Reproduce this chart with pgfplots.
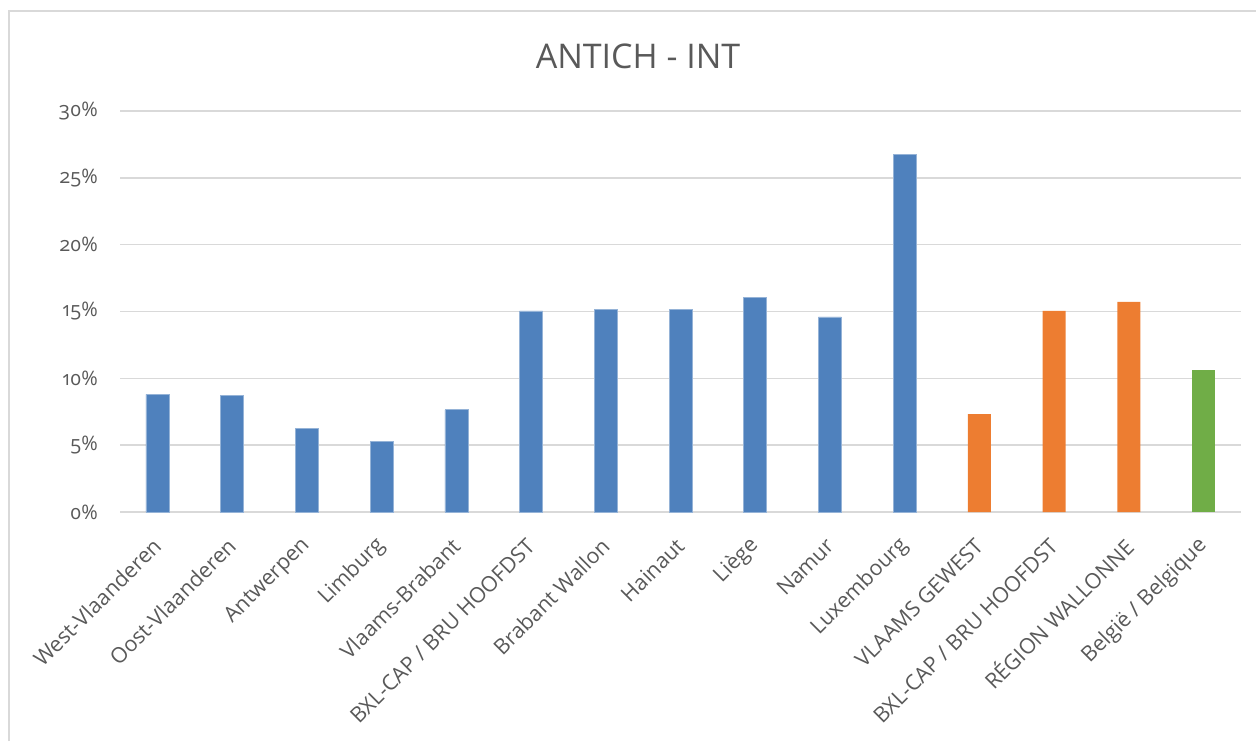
\documentclass[border=0pt]{standalone}
\usepackage{pgfplots}
\pgfplotsset{compat=1.18}
\usepackage{fontspec}
\setmainfont{Open Sans}[Numbers=OldStyle]
\definecolor{barblue}{HTML}{4F81BD}
\definecolor{barorange}{HTML}{ED7D31}
\definecolor{bargreen}{HTML}{70AD47}
\definecolor{txtgray}{HTML}{595959}
\definecolor{gridgray}{HTML}{D9D9D9}
\begin{document}
\begin{tikzpicture}
% page = 1256 x 741 px, 1 px = 0.5pt
\path[use as bounding box] (0,0) rectangle (628pt,370.5pt);
\draw[gridgray, line width=0.8pt] (4.5pt,0) -- (4.5pt,365pt) -- (628pt,365pt);
\node[txtgray, font=\fontsize{17}{20}\selectfont, anchor=base] at (319pt,336.5pt) {ANTICH - INT};
\begin{axis}[
  at={(60pt,114.5pt)}, anchor=south west,
  scale only axis, width=560.5pt, height=200.5pt,
  xmin=-0.5, xmax=14.5, ymin=0, ymax=30,
  axis line style={draw=none},
  ytick={0,5,...,30},
  yticklabel={\pgfmathprintnumber{\tick}\%},
  /pgf/number format/assume math mode=true,
  ymajorgrids, grid style={gridgray, line width=0.75pt},
  major tick length=0pt,
  yticklabel style={txtgray, font=\fontsize{10}{12}\selectfont, xshift=-7.5pt},
  xtick={0,...,14},
  xticklabels={West-Vlaanderen, Oost-Vlaanderen, Antwerpen, Limburg, Vlaams-Brabant,
    BXL-CAP / BRU HOOFDST, Brabant Wallon, Hainaut, Liège, Namur, Luxembourg,
    VLAAMS GEWEST, BXL-CAP / BRU HOOFDST, RÉGION WALLONNE, België / Belgique},
  xticklabel style={txtgray, font=\fontsize{10.7}{12}\selectfont,
    xshift=0pt, yshift=-15pt, rotate=45, anchor=east, inner sep=0pt},
  ybar, bar width=11.5pt, bar shift=0pt,
  clip=false,
]
\addplot[fill=barblue, draw=barblue!60!white, line width=0.3pt] coordinates {
  (0,8.8) (1,8.7) (2,6.25) (3,5.3) (4,7.65) (5,15.05) (6,15.18)
  (7,15.13) (8,16.05) (9,14.6) (10,26.78)};
\addplot[fill=barorange, draw=none] coordinates {
  (11,7.33) (12,15.05) (13,15.73)};
\addplot[fill=bargreen, draw=none] coordinates {(14,10.63)};
\end{axis}
\end{tikzpicture}
\end{document}
